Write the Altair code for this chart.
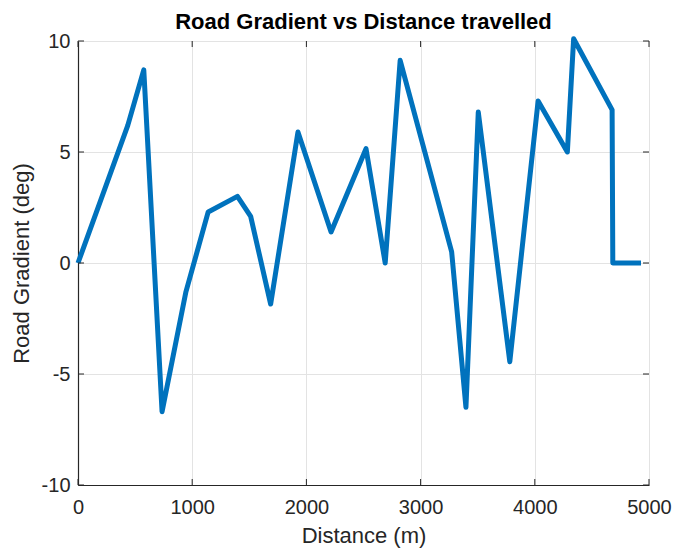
import altair as alt
import pandas as pd

distance = [0, 436, 576, 736, 945, 1140, 1396, 1512, 1687, 1926, 2216, 2522, 2690,
            2821, 3272, 3397, 3505, 3781, 4029, 4285, 4340, 4677, 4683, 4930]
gradient = [0, 6.2, 8.7, -6.7, -1.3, 2.3, 3.0, 2.1, -1.85, 5.9, 1.4, 5.15, 0,
            9.13, 0.5, -6.5, 6.8, -4.45, 7.3, 5.0, 10.1, 6.9, 0, 0]
x_ticks = [0, 1000, 2000, 3000, 4000, 5000]
y_ticks = [-10, -5, 0, 5, 10]

df = pd.DataFrame({"d": distance, "g": gradient, "i": list(range(len(distance)))})
xt = pd.DataFrame({"v": x_ticks})
yt = pd.DataFrame({"v": y_ticks})

W, H = 571, 444
FONT = "Liberation Sans"
AX = "#262626"

xscale = alt.Scale(domain=[0, 5000], nice=False, zero=False)
yscale = alt.Scale(domain=[-10, 10], nice=False, zero=False)

line = alt.Chart(df).mark_line(color="#0072BD", strokeWidth=5, clip=False, strokeJoin="round").encode(
    x=alt.X("d:Q", scale=xscale, title="Distance (m)",
            axis=alt.Axis(values=x_ticks, grid=True, gridColor="#e3e3e3", gridWidth=1,
                          labelExpr="toString(datum.value)", labelFlush=False,
                          domainColor=AX, domainWidth=1.2, tickSize=0, labelPadding=12,
                          labelFontSize=20, labelColor=AX, labelFont=FONT,
                          titleFont=FONT, titleFontSize=22, titleFontWeight="normal",
                          titleColor=AX, titlePadding=8)),
    y=alt.Y("g:Q", scale=yscale, title="Road Gradient (deg)",
            axis=alt.Axis(values=y_ticks, grid=True, gridColor="#e3e3e3", gridWidth=1,
                          labelExpr="toString(datum.value)", labelFlush=False,
                          domainColor=AX, domainWidth=1.2, tickSize=0, labelPadding=8,
                          labelFontSize=20, labelColor=AX, labelFont=FONT,
                          titleFont=FONT, titleFontSize=22, titleFontWeight="normal",
                          titleColor=AX, titlePadding=8)),
    order="i:Q",
)

# inward ticks on all four sides
tb = alt.Chart(xt).mark_rule(color=AX, strokeWidth=1).encode(
    x=alt.X("v:Q", scale=xscale), y=alt.value(H), y2=alt.value(H - 6))
tt = alt.Chart(xt).mark_rule(color=AX, strokeWidth=1).encode(
    x=alt.X("v:Q", scale=xscale), y=alt.value(0), y2=alt.value(6))
tl = alt.Chart(yt).mark_rule(color=AX, strokeWidth=1).encode(
    y=alt.Y("v:Q", scale=yscale), x=alt.value(0), x2=alt.value(6))
tr = alt.Chart(yt).mark_rule(color=AX, strokeWidth=1).encode(
    y=alt.Y("v:Q", scale=yscale), x=alt.value(W), x2=alt.value(W - 6))

chart = alt.layer(line, tb, tt, tl, tr).properties(
    width=W, height=H,
    title=alt.TitleParams("Road Gradient vs Distance travelled", font=FONT, fontSize=22,
                          fontWeight="bold", color="#000000", offset=1, dy=4, anchor="middle"),
    autosize=alt.AutoSizeParams(type="none"),
    padding={"left": 70, "top": 33, "right": 23, "bottom": 66},
).configure_view(stroke=AX, strokeWidth=1.2).configure(background="white")

chart.save("out.html", embed_options={"renderer": "svg", "actions": False})
